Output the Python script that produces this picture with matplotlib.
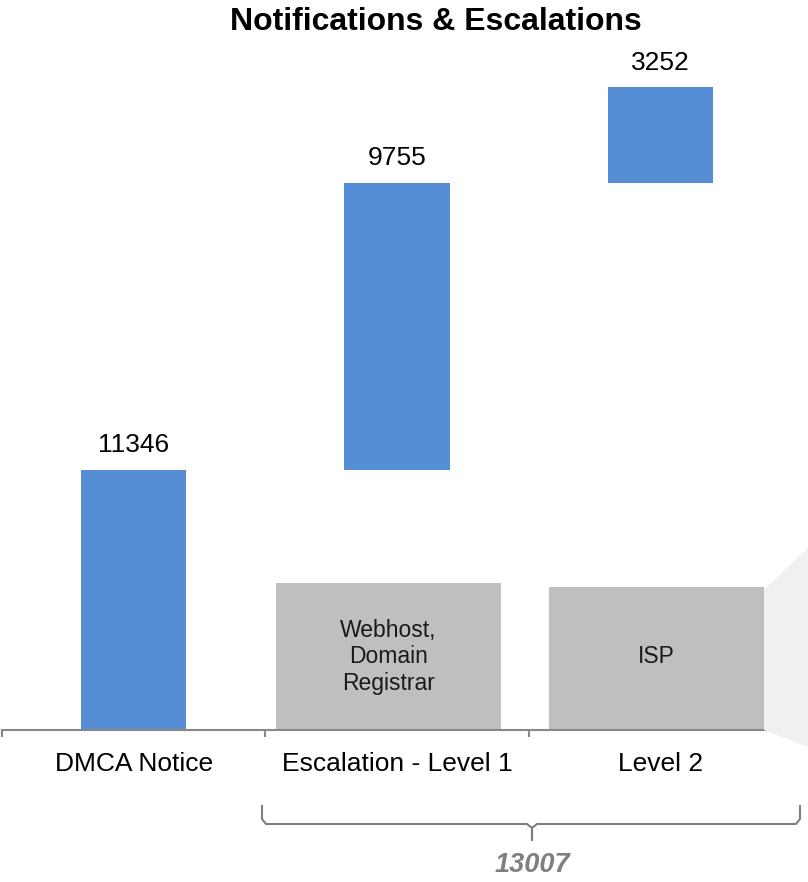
"""Notifications & escalations waterfall chart."""

import matplotlib
matplotlib.use("Agg")
import matplotlib.pyplot as plt
from matplotlib.patches import Polygon, Rectangle
from matplotlib.lines import Line2D

plt.rcParams["font.family"] = ["Liberation Sans", "DejaVu Sans"]

# Data
categories = ["DMCA Notice", "Escalation - Level 1", "Level 2"]
values = [11346, 9755, 3252]
box_labels = ["", "Webhost,\nDomain\nRegistrar", "ISP"]
group_total = "13007"

# Colours
_BLUE = "#558ed5"
_BOX = "#bfbfbf"
_AXIS = "#898989"
_SHADE = "#f0f0f0"
_BRACE = "#7f7f7f"

W, H = 808, 882


def fx(px):
    return px / W


def fy(py):
    return 1 - py / H


fig = plt.figure(figsize=(W / 100, H / 100), dpi=100, facecolor="white")

# light grey callout shape on the right edge
fig.patches.append(Polygon([(fx(764), fy(590)), (fx(808), fy(548)),
                            (fx(808), fy(747)), (fx(764), fy(730))],
                           closed=True, transform=fig.transFigure,
                           facecolor=_SHADE, edgecolor="none", zorder=0))

ax = fig.add_axes([fx(2), fy(730), fx(792) - fx(2), fy(87) - fy(730)])
ax.patch.set_alpha(0)

# waterfall bottoms
bottoms = [0]
for v in values[:-1]:
    bottoms.append(bottoms[-1] + v)

x = list(range(len(categories)))
ax.bar(x, values, bottom=bottoms, width=0.4, color=_BLUE, zorder=3)

ax.set_xlim(-0.5, len(categories) - 0.5)
ax.set_ylim(2500, bottoms[-1] + values[-1])

for xi, b, v in zip(x, bottoms, values):
    ax.annotate(str(v), (xi, b + v), xytext=(0, 9), textcoords="offset points",
                ha="center", va="bottom", fontsize=19, color="black",
                annotation_clip=False)

# grey label boxes
box_spans = [None, (0.542, 1.394, 0.2286), (1.576, 2.394, 0.2224)]
for span, lab in zip(box_spans, box_labels):
    if span is None:
        continue
    x0, x1, h = span
    ax.add_patch(Rectangle((x0, 0), x1 - x0, h, transform=ax.get_xaxis_transform(),
                           facecolor=_BOX, edgecolor="none", zorder=2))
    ax.text((x0 + x1) / 2, 0.114, lab, transform=ax.get_xaxis_transform(),
            ha="center", va="center", multialignment="center", fontsize=16.5,
            color="#1a1a1a", linespacing=1.2, zorder=4)

# axis
for side in ["left", "right", "top"]:
    ax.spines[side].set_visible(False)
ax.spines["bottom"].set_color(_AXIS)
ax.spines["bottom"].set_linewidth(1.5)
ax.spines["bottom"].set_zorder(5)
ax.set_yticks([])
ax.set_xticks([i - 0.5 for i in range(len(categories) + 1)])
ax.set_xticklabels([])
ax.tick_params(axis="x", which="major", direction="out", length=5,
               width=1.5, color=_AXIS)
ax.set_xticks(x, minor=True)
ax.set_xticklabels(categories, minor=True, fontsize=19)
ax.tick_params(axis="x", which="minor", length=0, pad=15.5)

# title
fig.text(fx(436), fy(22), "Notifications & Escalations", ha="center",
         va="center", fontsize=23, fontweight="bold", color="black")

# curly brace under the two escalation levels
bx0, bx1, bxm = 262, 800, 532
brace = [(bx0, 806), (bx0, 819), (bx0 + 4, 824), (bxm - 5, 824),
         (bxm, 828), (bxm, 840), (bxm, 828), (bxm + 5, 824),
         (bx1 - 4, 824), (bx1, 819), (bx1, 806)]
fig.lines.append(Line2D([fx(p[0]) for p in brace], [fy(p[1]) for p in brace],
                        transform=fig.transFigure, color=_BRACE, lw=1.5,
                        solid_joinstyle="round"))
fig.text(fx(bxm), fy(865), group_total, ha="center", va="center",
         fontsize=19.5, fontweight="bold", fontstyle="italic", color=_BRACE)

fig.savefig("out.png", dpi=100, facecolor="white")
